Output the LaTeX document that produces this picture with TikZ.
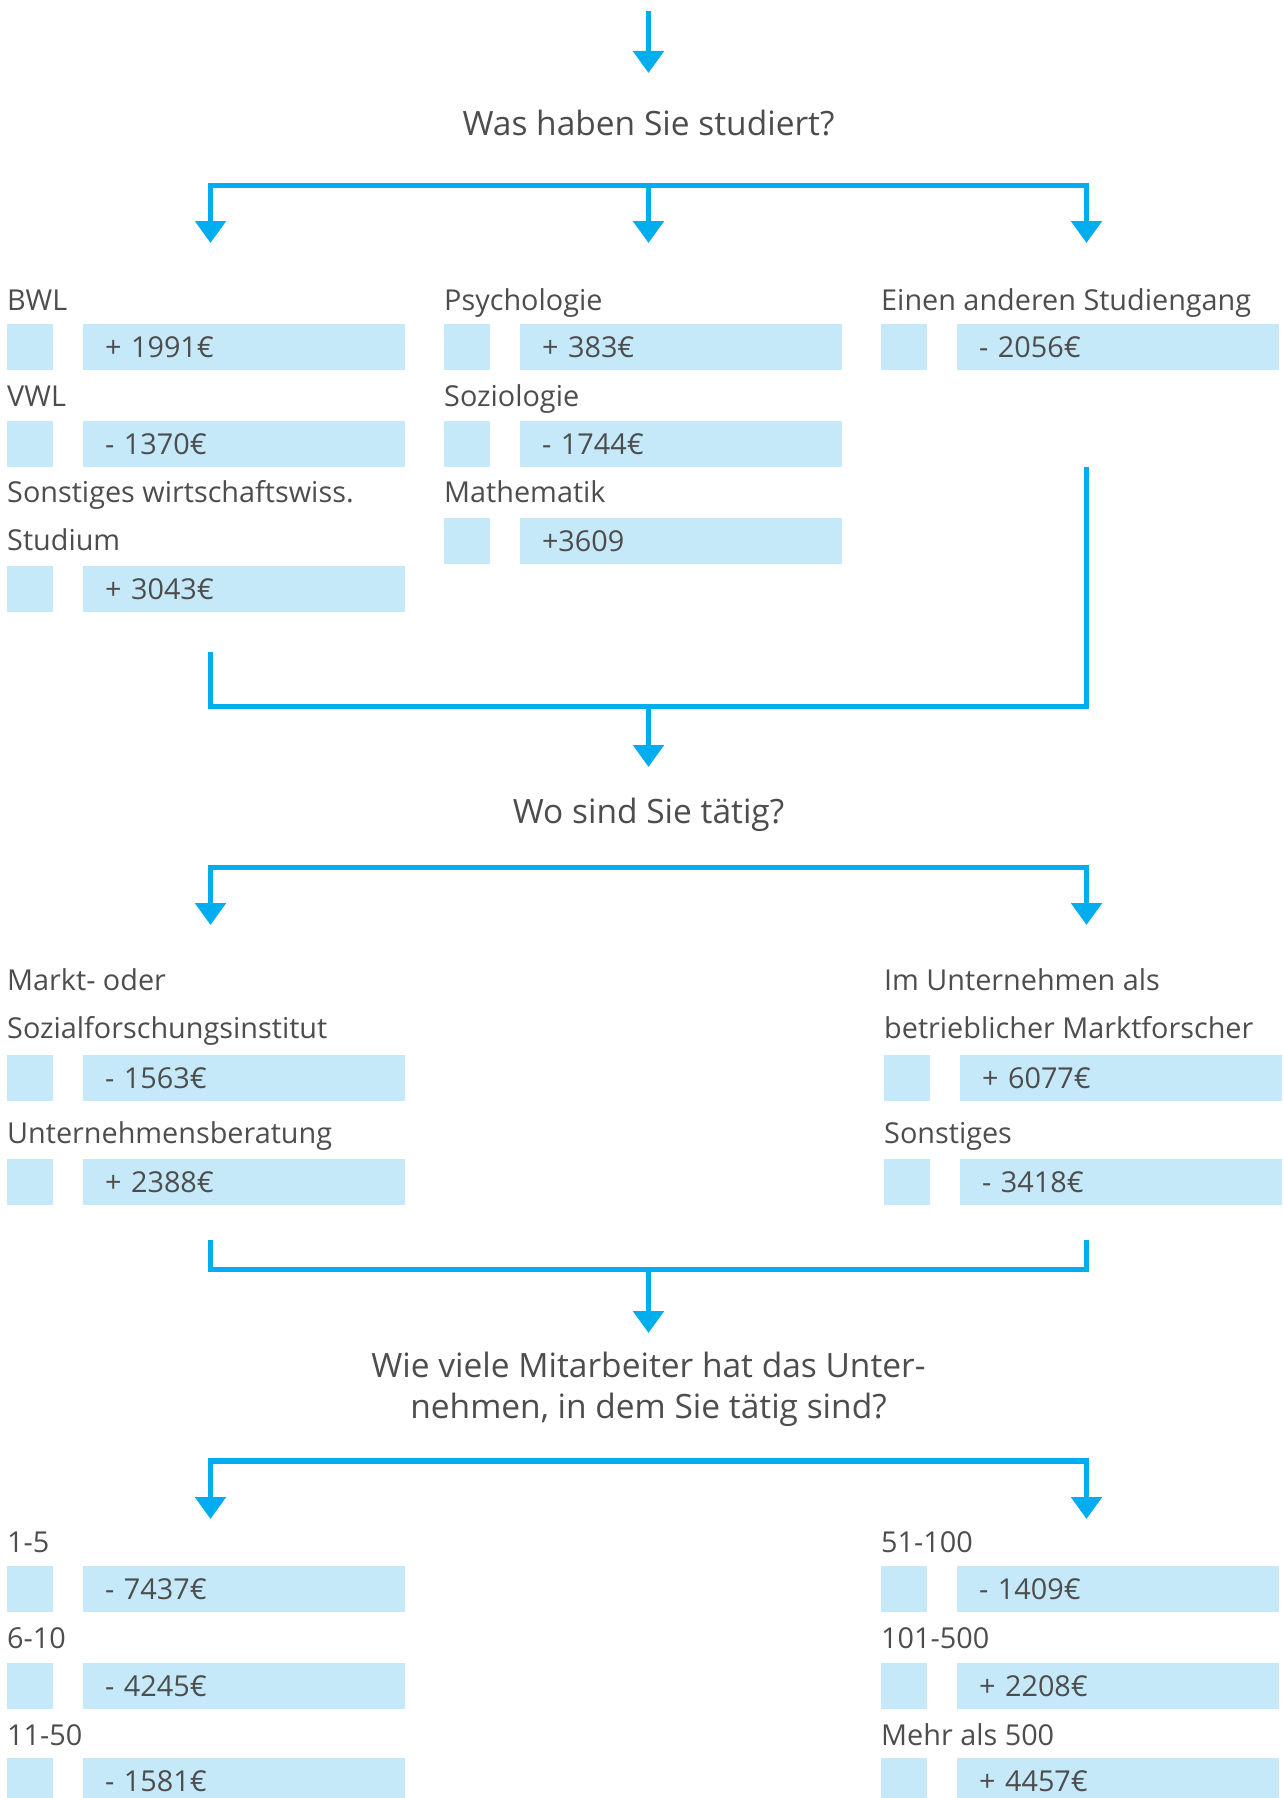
\documentclass[tikz,border=0pt]{standalone}
\usepackage{fontspec}
\setmainfont{Open Sans}
\usepackage{tikz}
\usetikzlibrary{arrows.meta,positioning}

\definecolor{flowcyan}{HTML}{00AEEF}
\definecolor{boxblue}{HTML}{C6E9F9}
\definecolor{txtgray}{HTML}{4D4D4D}

\begin{document}
\begin{tikzpicture}[
    x=1pt, y=-1pt,
    flow/.style={draw=flowcyan, line width=5.5pt, >={Triangle[width=30pt,length=22pt]}},
    question/.style={font=\fontsize{33.5}{41}\selectfont, text=txtgray, anchor=base,
                     align=center, inner sep=0pt},
    answer/.style={font=\fontsize{28.8}{48}\selectfont, text=txtgray, anchor=base west,
                   align=left, inner sep=0pt},
    markbox/.style={fill=boxblue, minimum width=46pt, minimum height=46pt,
                    inner sep=0pt, outer sep=0pt, anchor=north west},
    valbox/.style={fill=boxblue, minimum height=46pt, text width=278pt, inner xsep=22pt,
                   inner ysep=0pt, outer sep=0pt, align=left, text=txtgray,
                   font=\fontsize{28.8}{34}\selectfont},
    node distance=30pt
]
\useasboundingbox (0,0) rectangle (1284,1798);

% Frage 1: Studium
\coordinate (start) at (648.5,11);
\coordinate (tip0) at (648.5,73);
\draw[flow,->] (start) -- (tip0);
\node[question] (q1) at (648.5,136) {Was haben Sie studiert?};

\coordinate (bar1) at (648.5,185.5);
\coordinate (tip1l) at (210.5,243);
\coordinate (tip1c) at (648.5,243);
\coordinate (tip1r) at (1086.5,243);
\draw[flow,<->] (tip1l) |- (bar1) -| (tip1r);
\draw[flow,->] (bar1) -- (tip1c);

% linke Spalte
\node[answer] (bwl) at (7,310) {BWL};
\node[markbox] (bwl-m) at (7,324) {};
\node[valbox, right=of bwl-m] (bwl-v) {+ 1991€};

\node[answer] (vwl) at (7,406) {VWL};
\node[markbox] (vwl-m) at (7,421) {};
\node[valbox, right=of vwl-m] (vwl-v) {- 1370€};

\node[answer] (wiwi) at (7,550) {Sonstiges wirtschaftswiss.\\Studium};
\node[markbox] (wiwi-m) at (7,566) {};
\node[valbox, right=of wiwi-m] (wiwi-v) {+ 3043€};

% mittlere Spalte
\node[answer] (psy) at (444,310) {Psychologie};
\node[markbox] (psy-m) at (444,324) {};
\node[valbox, right=of psy-m] (psy-v) {+ 383€};

\node[answer] (soz) at (444,406) {Soziologie};
\node[markbox] (soz-m) at (444,421) {};
\node[valbox, right=of soz-m] (soz-v) {- 1744€};

\node[answer] (mathe) at (444,502) {Mathematik};
\node[markbox] (mathe-m) at (444,518) {};
\node[valbox, right=of mathe-m] (mathe-v) {+3609};

% rechte Spalte
\node[answer] (andere) at (881,310) {Einen anderen Studiengang};
\node[markbox] (andere-m) at (881,324) {};
\node[valbox, right=of andere-m] (andere-v) {- 2056€};

% Zusammenfuehrung 1
\coordinate (join1l) at (210.5,652);
\coordinate (join1r) at (1086.5,467);
\coordinate (join1) at (648.5,706.5);
\coordinate (tip2) at (648.5,767);
\draw[flow] (join1l) |- (join1) -| (join1r);
\draw[flow,->] (join1) -- (tip2);

% Frage 2: Taetigkeit
\node[question] (q2) at (648.5,823) {Wo sind Sie tätig?};

\coordinate (bar2) at (648.5,867.5);
\coordinate (tip3l) at (210.5,925);
\coordinate (tip3r) at (1086.5,925);
\draw[flow,<->] (tip3l) |- (bar2) -| (tip3r);

\node[answer] (institut) at (7,1038) {Markt- oder\\Sozialforschungsinstitut};
\node[markbox] (institut-m) at (7,1055) {};
\node[valbox, right=of institut-m] (institut-v) {- 1563€};

\node[answer] (beratung) at (7,1143) {Unternehmensberatung};
\node[markbox] (beratung-m) at (7,1159) {};
\node[valbox, right=of beratung-m] (beratung-v) {+ 2388€};

\node[answer] (betrieb) at (884,1038) {Im Unternehmen als\\betrieblicher Marktforscher};
\node[markbox] (betrieb-m) at (884,1055) {};
\node[valbox, right=of betrieb-m] (betrieb-v) {+ 6077€};

\node[answer] (sonst) at (884,1143) {Sonstiges};
\node[markbox] (sonst-m) at (884,1159) {};
\node[valbox, right=of sonst-m] (sonst-v) {- 3418€};

% Zusammenfuehrung 2
\coordinate (join2l) at (210.5,1240);
\coordinate (join2r) at (1086.5,1240);
\coordinate (join2) at (648.5,1269.5);
\coordinate (tip4) at (648.5,1333);
\draw[flow] (join2l) |- (join2) -| (join2r);
\draw[flow,->] (join2) -- (tip4);

% Frage 3: Mitarbeiter
\node[question] (q3) at (648.5,1418) {Wie viele Mitarbeiter hat das Unter-\\nehmen, in dem Sie tätig sind?};

\coordinate (bar3) at (648.5,1461);
\coordinate (tip5l) at (210.5,1519);
\coordinate (tip5r) at (1086.5,1519);
\draw[flow,<->] (tip5l) |- (bar3) -| (tip5r);

\node[answer] (ma1) at (7,1552) {1-5};
\node[markbox] (ma1-m) at (7,1566) {};
\node[valbox, right=of ma1-m] (ma1-v) {- 7437€};

\node[answer] (ma2) at (7,1648) {6-10};
\node[markbox] (ma2-m) at (7,1663) {};
\node[valbox, right=of ma2-m] (ma2-v) {- 4245€};

\node[answer] (ma3) at (7,1745) {11-50};
\node[markbox] (ma3-m) at (7,1758) {};
\node[valbox, right=of ma3-m] (ma3-v) {- 1581€};

\node[answer] (ma4) at (881,1552) {51-100};
\node[markbox] (ma4-m) at (881,1566) {};
\node[valbox, right=of ma4-m] (ma4-v) {- 1409€};

\node[answer] (ma5) at (881,1648) {101-500};
\node[markbox] (ma5-m) at (881,1663) {};
\node[valbox, right=of ma5-m] (ma5-v) {+ 2208€};

\node[answer] (ma6) at (881,1745) {Mehr als 500};
\node[markbox] (ma6-m) at (881,1758) {};
\node[valbox, right=of ma6-m] (ma6-v) {+ 4457€};

\end{tikzpicture}
\end{document}
